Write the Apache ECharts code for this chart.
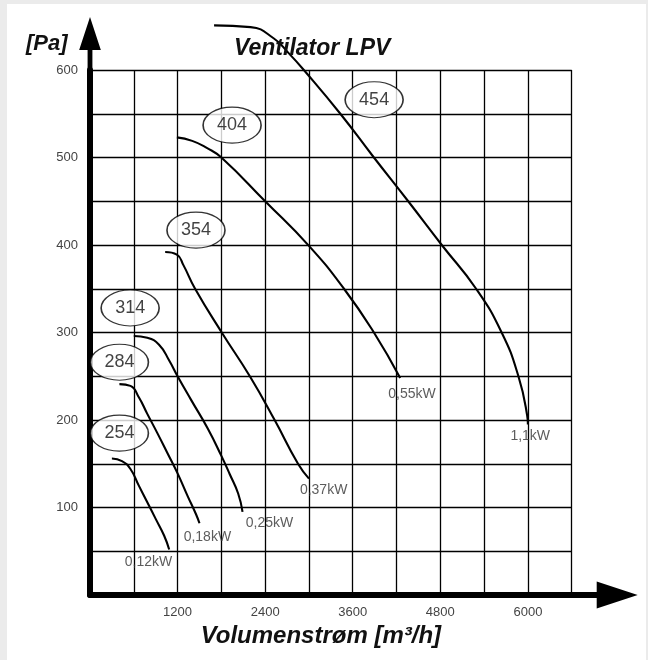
<!DOCTYPE html>
<html><head><meta charset="utf-8">
<script src="https://cdn.jsdelivr.net/npm/echarts@6/dist/echarts.min.js"></script>
<style>
html,body{margin:0;padding:0;background:#ebebeb;}
#bg{position:absolute;left:7px;top:4px;width:639px;height:656px;background:#fff;}
#chart{position:absolute;left:0;top:0;width:648px;height:660px;}
</style></head><body>
<div id="bg"></div><div id="chart"></div>
<script>
// tick labels
const xTickLabels = [1200, 2400, 3600, 4800, 6000];
const yTickLabels = [100, 200, 300, 400, 500, 600];
// fan sizes and motor powers
const fanNames = ['254', '284', '314', '354', '404', '454'];
const powerLabels = ['0,12kW', '0,18kW', '0,25kW', '0,37kW', '0,55kW', '1,1kW'];
// curves: [volume flow m3/h, pressure Pa]
const curve254 = [[300,156],[438,153],[554,144],[669,125],[785,106],[900,87],[1015,68],[1085,52]];
const curve284 = [[403,241],[554,239],[669,226],[785,207],[923,185],[1062,162],[1200,139],[1338,113],[1454,92],[1500,82]];
const curve314 = [[600,296],[785,294],[946,286],[1085,268],[1200,250],[1385,223],[1615,190],[1800,159],[1915,138],[2030,116],[2090,95]];
const curve354 = [[1030,392],[1190,389],[1280,377],[1440,350],[1805,300],[2190,250],[2530,200],[2850,150],[3000,133]];
const curve404 = [[1190,523],[1400,519],[1600,511],[1800,500],[2400,450],[3000,399],[3480,350],[3890,300],[4250,248]];
const curve454 = [[1700,651],[2200,649],[2520,636],[2725,619],[2930,600],[3430,550],[3890,500],[4360,450],[4820,400],[5290,350],[5640,300],[5870,250],[5990,205],[6000,195]];
// annotation anchors in data units
const fanTagPos = [[403,185],[403,266],[550,328],[1452,417],[1947,537],[3893,566]];
const powerTagPos = [[801,38],[1608,66],[2459,82],[3201,120],[4411,229],[6032,181]];

const curves = [curve254, curve284, curve314, curve354, curve404, curve454];
const FONT = '"Liberation Sans", Arial, sans-serif';
const arrowPath = 'path://M13.5,0 L27,41 L16.5,41 L16.5,66 L10.5,66 L10.5,41 L0,41 Z';
const ellipsePath = 'path://M0,-1 A1,1 0 1,1 0,1 A1,1 0 1,1 0,-1 Z';

const chart = echarts.init(document.getElementById('chart'), null, {renderer: 'canvas'});
const lineSeries = curves.map((c, i) => ({
  type: 'line', name: fanNames[i], data: c, showSymbol: false, symbol: 'none',
  smooth: 0.5, clip: false, z: 3,
  lineStyle: {color: '#000', width: 2.1}
}));
chart.setOption({
  backgroundColor: 'transparent',
  animation: false,
  title: [
    {text: 'Ventilator LPV', left: 229, top: 32,
     textStyle: {fontFamily: FONT, fontSize: 23, fontWeight: 'bold', fontStyle: 'italic', color: '#111'}},
    {text: '[Pa]', left: 21, top: 28,
     textStyle: {fontFamily: FONT, fontSize: 22, fontWeight: 'bold', fontStyle: 'italic', color: '#111'}}
  ],
  grid: {left: 90, top: 70, right: 76.3, bottom: 65, containLabel: false},
  xAxis: {
    type: 'value', min: 0, max: 6600, interval: 600,
    name: 'Volumenstrøm [m³/h]', nameLocation: 'middle', nameGap: 26,
    nameTextStyle: {fontFamily: FONT, fontSize: 24, fontWeight: 'bold', fontStyle: 'italic', color: '#111', padding: [0, 20, 0, 0]},
    axisLine: {show: true, onZero: false, lineStyle: {color: '#000', width: 6},
      symbol: ['none', arrowPath], symbolSize: [27, 66], symbolOffset: [0, 33]},
    axisTick: {show: false},
    axisLabel: {margin: 11, fontFamily: FONT, fontSize: 13, color: '#444',
      formatter: v => xTickLabels.includes(v) ? String(v) : ''},
    splitLine: {show: true, lineStyle: {color: '#000', width: 1.3}}
  },
  yAxis: {
    type: 'value', min: 0, max: 600, interval: 50,
    axisLine: {show: true, onZero: false, lineStyle: {color: '#000', width: 6},
      symbol: ['none', arrowPath], symbolSize: [25, 53], symbolOffset: [0, 26.5]},
    axisTick: {show: false},
    axisLabel: {margin: 12, fontFamily: FONT, fontSize: 13, color: '#444',
      formatter: v => yTickLabels.includes(v) ? String(v) : ''},
    splitLine: {show: true, lineStyle: {color: '#000', width: 1.3}}
  },
  series: lineSeries.concat([
    {
      type: 'scatter', z: 5, clip: false,
      symbol: ellipsePath, symbolSize: [58, 36],
      itemStyle: {color: '#fff', borderColor: '#000', borderWidth: 1.3},
      label: {show: true, position: 'inside', formatter: p => p.name,
        fontFamily: FONT, fontSize: 18, color: '#111'},
      data: fanTagPos.map((p, i) => ({value: p, name: fanNames[i]}))
    },
    {
      type: 'scatter', z: 5, clip: false,
      symbol: 'circle', symbolSize: 1,
      itemStyle: {color: 'rgba(0,0,0,0)'},
      label: {show: true, position: 'inside', formatter: p => p.name,
        fontFamily: FONT, fontSize: 14, color: '#333'},
      data: powerTagPos.map((p, i) => ({value: p, name: powerLabels[i]}))
    }
  ])
});
</script>
</body></html>
